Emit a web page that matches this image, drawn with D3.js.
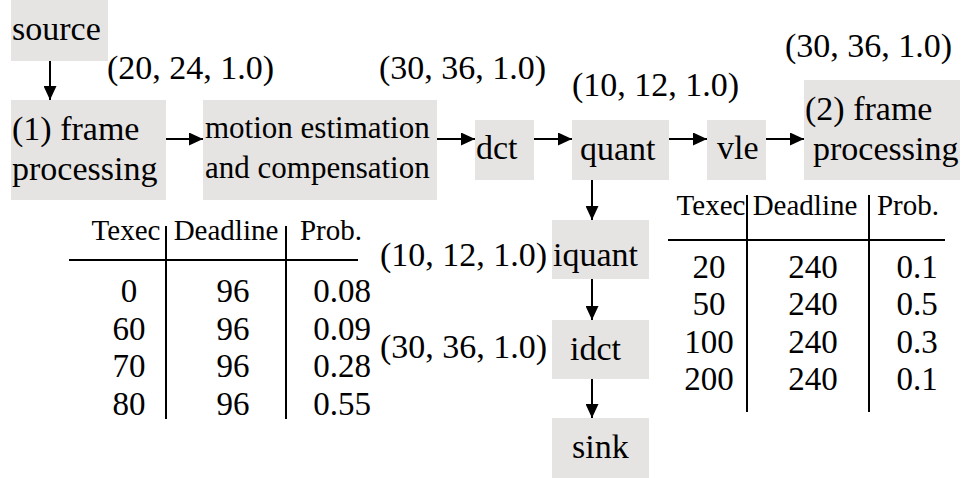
<!DOCTYPE html>
<html>
<head>
<meta charset="utf-8">
<script src="https://cdn.jsdelivr.net/npm/d3@7"></script>
<style>
  html, body { margin: 0; padding: 0; background: #fff; }
</style>
</head>
<body>
<svg id="chart" width="963" height="478"></svg>
<script>
// task graph nodes and their text lines
const nodeIds = ['source', 'frame1', 'motion', 'dct', 'quant', 'vle', 'frame2', 'iquant', 'idct', 'sink'];
const nodeLines = [
  ['source'],
  ['(1) frame', 'processing'],
  ['motion estimation', 'and compensation'],
  ['dct'],
  ['quant'],
  ['vle'],
  ['(2) frame', 'processing'],
  ['iquant'],
  ['idct'],
  ['sink']
];
const edges = [
  ['source', 'frame1'], ['frame1', 'motion'], ['motion', 'dct'], ['dct', 'quant'],
  ['quant', 'vle'], ['vle', 'frame2'], ['quant', 'iquant'], ['iquant', 'idct'], ['idct', 'sink']
];
// (Texec, Deadline, Prob.) annotations
const taskLabels = ['(20, 24, 1.0)', '(30, 36, 1.0)', '(10, 12, 1.0)', '(30, 36, 1.0)', '(10, 12, 1.0)', '(30, 36, 1.0)'];

// distribution tables
const tableHeader = ['Texec', 'Deadline', 'Prob.'];
const leftTexec = ['0', '60', '70', '80'];
const leftDeadline = ['96', '96', '96', '96'];
const leftProb = ['0.08', '0.09', '0.28', '0.55'];
const rightTexec = ['20', '50', '100', '200'];
const rightDeadline = ['240', '240', '240', '240'];
const rightProb = ['0.1', '0.5', '0.3', '0.1'];

// ---- layout ----
const FONT = '"Liberation Serif", monospace';
const BOX_FILL = '#e6e4e2';
const ARROW_Y = 139;

const boxes = {
  source: { x: 11, y: 0, w: 97, h: 61 },
  frame1: { x: 11, y: 100, w: 155, h: 100 },
  motion: { x: 203, y: 100, w: 234, h: 100 },
  dct: { x: 475, y: 120, w: 59, h: 60 },
  quant: { x: 572, y: 120, w: 97, h: 60 },
  vle: { x: 707, y: 120, w: 59, h: 60 },
  frame2: { x: 804, y: 80, w: 156, h: 100 },
  iquant: { x: 552, y: 220, w: 97, h: 59 },
  idct: { x: 552, y: 320, w: 97, h: 59 },
  sink: { x: 552, y: 418, w: 97, h: 60 }
};
// text anchor per node
const nodeText = {
  source: { x: 12, y: 40, size: 34 },
  frame1: { x: 12, y: 140, step: 40, size: 34 },
  motion: { x: 205, y: 138, step: 40, size: 31 },
  dct: { x: 476, y: 159, size: 34 },
  quant: { x: 580, y: 160, size: 34 },
  vle: { x: 717, y: 159, size: 34 },
  frame2: { x: 805, y: 120, step: 40, size: 34, indent: [0, 8] },
  iquant: { x: 553, y: 266, size: 34 },
  idct: { x: 570, y: 360, size: 34 },
  sink: { x: 572, y: 458, size: 34 }
};
const verticalX = { source: 50, quant: 592, iquant: 592, idct: 592 };
const labelPos = [
  { x: 107, y: 79 }, { x: 379, y: 79 }, { x: 572, y: 96 },
  { x: 785, y: 57 }, { x: 380, y: 266 }, { x: 380, y: 358 }
];

const svg = d3.select('#chart');

svg.append('defs').append('marker')
  .attr('id', 'head')
  .attr('markerUnits', 'userSpaceOnUse')
  .attr('markerWidth', 14)
  .attr('markerHeight', 13)
  .attr('refX', 14)
  .attr('refY', 6.5)
  .attr('orient', 'auto')
  .append('path')
  .attr('d', 'M0,0 L14,6.5 L0,13 Z')
  .attr('fill', '#000');

function label(sel, x, y, str, size, anchor = 'start') {
  return sel.append('text')
    .attr('x', x)
    .attr('y', y)
    .attr('text-anchor', anchor)
    .style('font-family', FONT)
    .attr('font-size', size)
    .text(str);
}

// Boxes
const gNodes = svg.append('g');
nodeIds.forEach((id, i) => {
  const b = boxes[id];
  gNodes.append('rect')
    .attr('x', b.x).attr('y', b.y)
    .attr('width', b.w).attr('height', b.h)
    .attr('fill', BOX_FILL);
  const t = nodeText[id];
  nodeLines[i].forEach((line, j) => {
    const dx = t.indent ? t.indent[j] : 0;
    label(gNodes, t.x + dx, t.y + j * (t.step || 0), line, t.size);
  });
});

// Edges
const gEdges = svg.append('g');
edges.forEach(([from, to]) => {
  const a = boxes[from], b = boxes[to];
  let x1, y1, x2, y2;
  if (b.y >= a.y + a.h) {
    x1 = x2 = verticalX[from];
    y1 = a.y + a.h;
    y2 = b.y;
  } else {
    y1 = y2 = ARROW_Y;
    x1 = a.x + a.w;
    x2 = b.x;
  }
  gEdges.append('line')
    .attr('x1', x1).attr('y1', y1)
    .attr('x2', x2).attr('y2', y2)
    .attr('stroke', '#000')
    .attr('stroke-width', 2)
    .attr('marker-end', 'url(#head)');
});

// Task annotations
taskLabels.forEach((s, i) => label(svg, labelPos[i].x, labelPos[i].y, s, 34));

// Tables
function drawTable(cfg, cols) {
  const g = svg.append('g');
  const col = d3.scaleOrdinal(tableHeader, cfg.colX);
  const row = d3.scaleLinear().domain([0, cols[0].length - 1]).range(cfg.rowY);

  tableHeader.forEach((h, i) => label(g, col(h) + cfg.headDx[i], cfg.headY, h, 29, 'middle'));

  g.append('line')
    .attr('x1', cfg.rule[0]).attr('x2', cfg.rule[1])
    .attr('y1', cfg.ruleY).attr('y2', cfg.ruleY)
    .attr('stroke', '#000').attr('stroke-width', 2);

  cfg.sepX.forEach(x => {
    g.append('line')
      .attr('x1', x).attr('x2', x)
      .attr('y1', cfg.sepY[0]).attr('y2', cfg.sepY[1])
      .attr('stroke', '#000').attr('stroke-width', 2);
  });

  cols.forEach((vals, c) => {
    vals.forEach((v, r) => label(g, col(tableHeader[c]), row(r), v, 33, 'middle'));
  });
}

drawTable({
  colX: [129, 233, 342],
  headDx: [-3, -7, -11],
  headY: 240,
  rowY: [302, 415],
  rule: [69, 358], ruleY: 260,
  sepX: [166, 286], sepY: [226, 419]
}, [leftTexec, leftDeadline, leftProb]);

drawTable({
  colX: [709, 813, 917],
  headDx: [2, -8, -9],
  headY: 215,
  rowY: [278, 390],
  rule: [668, 945], ruleY: 240,
  sepX: [747, 869], sepY: [195, 412]
}, [rightTexec, rightDeadline, rightProb]);
</script>
</body>
</html>
